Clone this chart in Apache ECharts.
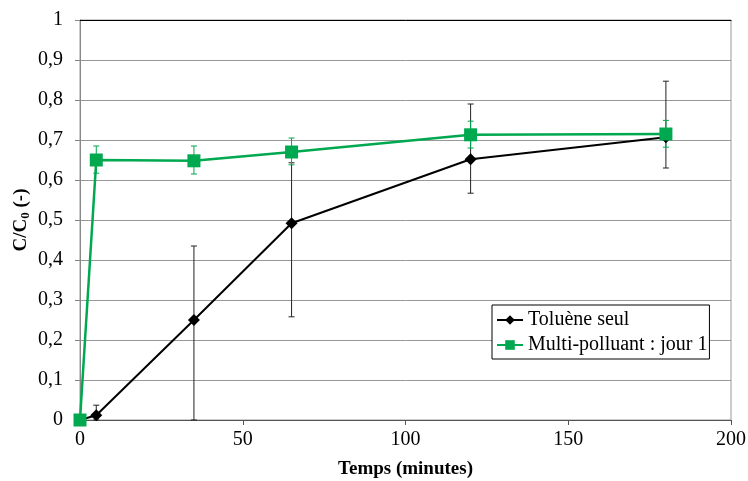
<!DOCTYPE html>
<html>
<head>
<meta charset="utf-8">
<script src="https://cdn.jsdelivr.net/npm/echarts@6/dist/echarts.min.js"></script>
<style>
  html, body { margin: 0; padding: 0; background: #fff; }
  #chart { width: 748px; height: 481px; }
</style>
</head>
<body>
<div id="chart"></div>
<script>
// temps (minutes)
const times = [0, 5, 35, 65, 120, 180];

// Toluène seul
const tolMean = [0, 0.012, 0.25, 0.492, 0.652, 0.707];
const tolLow  = [0, 0, 0, 0.258, 0.567, 0.63];
const tolHigh = [0, 0.037, 0.435, 0.643, 0.79, 0.847];

// Multi-polluant : jour 1
const multiMean = [0, 0.65, 0.648, 0.67, 0.713, 0.715];
const multiLow  = [0, 0.617, 0.615, 0.638, 0.68, 0.682];
const multiHigh = [0, 0.685, 0.685, 0.705, 0.747, 0.749];

const FONT = 'Liberation Serif';
const BLACK = '#000000';
const GREEN = '#00a84f';

const chart = echarts.init(document.getElementById('chart'));

// barres d'erreur verticales avec petits chapeaux
function errBars(low, high, color) {
  return {
    type: 'custom',
    silent: true,
    z: 1,
    data: times.map((t, i) => [t, low[i], high[i]]),
    renderItem: (params, api) => {
      const lo = api.coord([api.value(0), api.value(1)]);
      const hi = api.coord([api.value(0), api.value(2)]);
      const w = 3;
      const style = { stroke: color, lineWidth: 1 };
      return {
        type: 'group',
        children: [
          { type: 'line', shape: { x1: lo[0], y1: lo[1], x2: hi[0], y2: hi[1] }, style },
          { type: 'line', shape: { x1: hi[0] - w, y1: hi[1], x2: hi[0] + w, y2: hi[1] }, style },
          { type: 'line', shape: { x1: lo[0] - w, y1: lo[1], x2: lo[0] + w, y2: lo[1] }, style }
        ]
      };
    }
  };
}

chart.setOption({
  animation: false,
  textStyle: { fontFamily: FONT },
  grid: {
    left: 80, right: 17, top: 20, bottom: 61,
    containLabel: false, outerBoundsMode: 'none',
    show: true, borderColor: '#999', borderWidth: 1
  },
  legend: {
    left: 492, top: 305,
    orient: 'vertical',
    backgroundColor: '#fff',
    borderColor: '#000', borderWidth: 1,
    padding: [5, 2, 4, 4],
    itemGap: 5,
    itemWidth: 26, itemHeight: 12,
    textStyle: { fontFamily: FONT, fontSize: 20, color: '#000' },
    data: ['Toluène seul', 'Multi-polluant : jour 1']
  },
  xAxis: [{
    type: 'value', min: 0, max: 200, interval: 50,
    name: 'Temps (minutes)', nameLocation: 'middle', nameGap: 40,
    nameTextStyle: { fontFamily: FONT, fontSize: 19, fontWeight: 'bold', color: '#000' },
    axisLine: { show: true, lineStyle: { color: '#555' } },
    axisTick: { show: true, length: 5, lineStyle: { color: '#555' } },
    axisLabel: { fontFamily: FONT, fontSize: 20, color: '#000', margin: 10 },
    splitLine: { show: false }
  }, {
    // bord supérieur du cadre
    type: 'value', min: 0, max: 200, position: 'top',
    axisLine: { show: true, lineStyle: { color: '#000' } },
    axisTick: { show: false }, axisLabel: { show: false }, splitLine: { show: false }
  }],
  yAxis: {
    type: 'value', min: 0, max: 1, interval: 0.1,
    name: '{a|C/C}{b|0}{a| (-)}', nameLocation: 'middle', nameGap: 48, nameRotate: 90,
    nameMoveOverlap: false,
    nameTextStyle: {
      rich: {
        a: { fontFamily: FONT, fontSize: 19, fontWeight: 'bold', color: '#000', lineHeight: 22 },
        b: { fontFamily: FONT, fontSize: 13, fontWeight: 'bold', color: '#000', lineHeight: 22, verticalAlign: 'bottom', padding: [8, 0, 0, 0] }
      }
    },
    axisLine: { show: true, lineStyle: { color: '#888' } },
    axisTick: { show: true, length: 5, lineStyle: { color: '#888' } },
    axisLabel: {
      fontFamily: FONT, fontSize: 20, color: '#000', margin: 17,
      formatter: v => String(Math.round(v * 10) / 10).replace('.', ',')
    },
    splitLine: { show: true, lineStyle: { color: '#999', width: 1 } }
  },
  series: [
    errBars(tolLow, tolHigh, '#222'),
    errBars(multiLow, multiHigh, GREEN),
    {
      name: 'Toluène seul', type: 'line', z: 3,
      data: times.map((t, i) => [t, tolMean[i]]),
      symbol: 'diamond', symbolSize: 12,
      itemStyle: { color: BLACK },
      lineStyle: { color: BLACK, width: 2 }
    },
    {
      name: 'Multi-polluant : jour 1', type: 'line', z: 4,
      data: times.map((t, i) => [t, multiMean[i]]),
      symbol: 'rect', symbolSize: 13,
      itemStyle: { color: GREEN },
      lineStyle: { color: GREEN, width: 2.5 }
    }
  ]
});
</script>
</body>
</html>
